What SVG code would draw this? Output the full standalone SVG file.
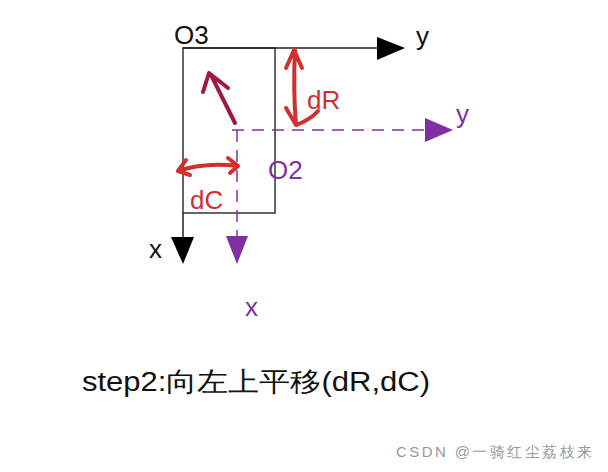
<svg xmlns="http://www.w3.org/2000/svg" width="608" height="472" viewBox="0 0 608 472">
<style>
text{font-family:"Liberation Sans",Arial,sans-serif}
.blk{fill:#111}.pur{fill:#8030a0}.red{fill:#d03030}
.red-s{stroke:#d03030;stroke-width:4;fill:none;stroke-linecap:round;stroke-linejoin:round}
</style>
<rect width="608" height="472" fill="#fff"/>
<g id="frame"><rect x="183" y="48" width="92" height="165" fill="none" stroke="#333" stroke-width="1.5"/></g>
<g id="connectors">
<line x1="183" y1="48" x2="380" y2="48" stroke="#222" stroke-width="1.5"/>
<polygon points="377,37 405,48 377,60" fill="#000"/>
<line x1="183" y1="213" x2="183" y2="238" stroke="#222" stroke-width="1.5"/>
<polygon points="171,237 194,237 183,264" fill="#000"/>
<line x1="232" y1="130" x2="425" y2="130" stroke="#8030a0" stroke-width="1.5" stroke-dasharray="12,8"/>
<polygon points="425,118 453,130 425,142" fill="#8030a0"/>
<line x1="237" y1="130" x2="237" y2="236" stroke="#8030a0" stroke-width="1.5" stroke-dasharray="12,8"/>
<polygon points="226,236 248,236 237,264" fill="#8030a0"/>
<path class="red-s" d="M295,50 Q293,90 296,125 M286,68 L294,50 L302,68 M286,108 L296,125 Q310,120 318,111"/>
<path class="red-s" d="M178,171 Q205,162 238,166 M186,160 L178,171 L190,175 M228,158 L238,166 L230,173"/>
<path d="M235,123 L211,75 M203,92 L209,73 L228,88" stroke="#a01848" stroke-width="4" fill="none" stroke-linecap="round" stroke-linejoin="round"/>
</g>
<g id="labels" font-size="26">
<text x="174" y="44" class="blk">O3</text>
<text x="416" y="45" class="blk">y</text>
<text x="307" y="109" class="red">dR</text>
<text x="456" y="123" class="pur">y</text>
<text x="268" y="179" class="pur">O2</text>
<text x="190" y="209" class="red">dC</text>
<text x="149" y="258" class="blk">x</text>
<text x="245" y="316" class="pur">x</text>
<text x="82" y="391" class="blk" font-size="27" textLength="348" lengthAdjust="spacingAndGlyphs" font-family="'Liberation Sans','Noto Sans CJK SC',sans-serif">step2:向左上平移(dR,dC)</text>
<text x="396" y="457" fill="#999" font-size="15" textLength="196" font-family="'Liberation Sans','Noto Sans CJK SC',sans-serif">CSDN @一骑红尘荔枝来</text>
</g>
</svg>
